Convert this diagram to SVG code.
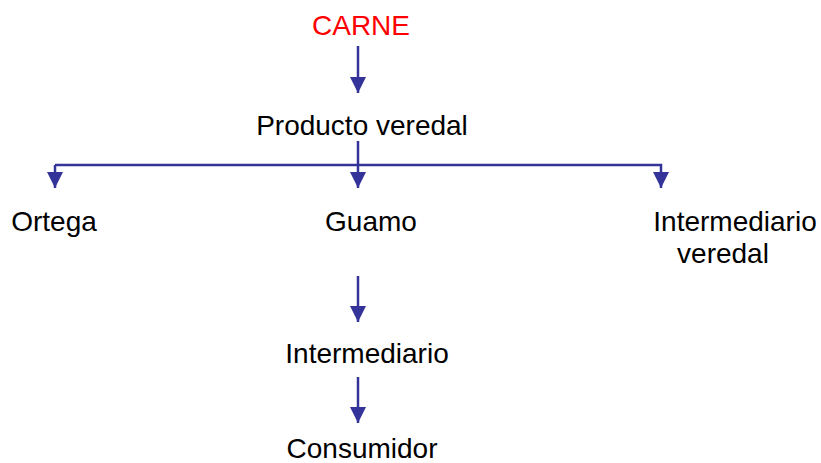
<svg xmlns="http://www.w3.org/2000/svg" width="821" height="463" viewBox="0 0 821 463">
<style>
text{font-family:"Liberation Sans",Arial,sans-serif;font-size:28px;fill:#000;text-anchor:middle}
.red{fill:#ff0000}
.ln{stroke:#333399;stroke-width:2.5;fill:none}
</style>
<defs>
<marker id="ah" viewBox="0 0 16 16" refX="16" refY="8" markerWidth="16" markerHeight="16" markerUnits="userSpaceOnUse" orient="auto">
<path d="M0,0 L16,8 L0,16 Z" fill="#333399"/>
</marker>
</defs>
<g id="connectors">
<line class="ln" x1="358" y1="46" x2="358" y2="93" marker-end="url(#ah)"/>
<line class="ln" x1="358" y1="141" x2="358" y2="188" marker-end="url(#ah)"/>
<polyline class="ln" points="55,165 661,165 661,188" marker-end="url(#ah)"/>
<line class="ln" x1="55" y1="165" x2="55" y2="188" marker-end="url(#ah)"/>
<line class="ln" x1="358" y1="276" x2="358" y2="322" marker-end="url(#ah)"/>
<line class="ln" x1="358" y1="377" x2="358" y2="423" marker-end="url(#ah)"/>
</g>
<g id="carne"><text class="red" x="361" y="35">CARNE</text></g>
<g id="producto"><text x="362" y="135">Producto veredal</text></g>
<g id="ortega"><text x="54" y="231">Ortega</text></g>
<g id="guamo"><text x="371" y="231">Guamo</text></g>
<g id="intermediario-veredal"><text x="735" y="231">Intermediario</text><text x="723" y="263">veredal</text></g>
<g id="intermediario"><text x="367" y="363">Intermediario</text></g>
<g id="consumidor"><text x="362" y="458">Consumidor</text></g>
</svg>
